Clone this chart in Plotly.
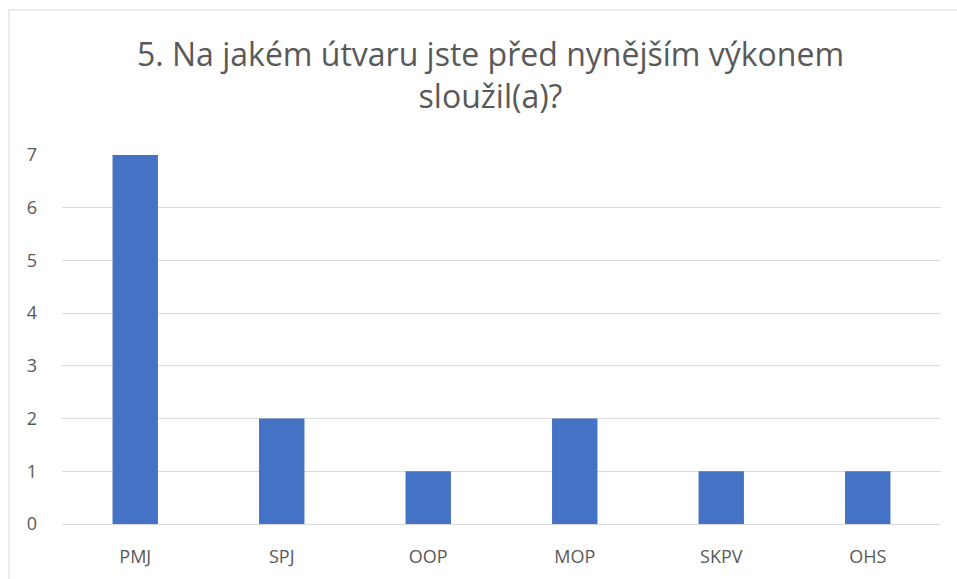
import plotly.graph_objects as go

categories = ["PMJ", "SPJ", "OOP", "MOP", "SKPV", "OHS"]
values = [7, 2, 1, 2, 1, 1]
y_ticks = [0, 1, 2, 3, 4, 5, 6, 7]
title_text = "5. Na jakém útvaru jste před nynějším výkonem<br>sloužil(a)?"

W, H = 957, 579
ml, mr, mt, mb = 62, 16, 155, 55
pw, ph = W - ml - mr, H - mt - mb

fig = go.Figure(go.Bar(x=categories, y=values, marker=dict(color="#4472C4", line=dict(width=0)), width=0.31,
                       hoverinfo="skip"))

grey = "#595959"
fig.update_layout(
    width=W, height=H,
    margin=dict(l=ml, r=mr, t=mt, b=mb),
    paper_bgcolor="white", plot_bgcolor="white",
    font=dict(family="Open Sans, Liberation Sans, sans-serif", color=grey, size=18),
    showlegend=False,
    xaxis=dict(showgrid=False, showline=False, zeroline=False, ticks="", ticklabelstandoff=20,
               tickfont=dict(size=18, color=grey)),
    yaxis=dict(range=[0, 7], tickvals=y_ticks, showgrid=True, gridcolor="#d9d9d9", gridwidth=1,
               zeroline=True, zerolinecolor="#d9d9d9", zerolinewidth=1, showline=False, ticks="",
               ticklabelstandoff=24, tickfont=dict(size=18, color=grey)),
    annotations=[dict(text=title_text, xref="paper", yref="paper", x=(490 - ml) / pw, y=1 + (mt - 75) / ph,
                      xanchor="center", yanchor="middle", showarrow=False,
                      font=dict(size=32, color=grey, family="Open Sans, Liberation Sans, sans-serif"))],
    shapes=[dict(type="rect", xref="paper", yref="paper",
                 x0=(9 - ml) / pw, x1=(1000 - ml) / pw, y0=1 - (620 - mt) / ph, y1=1 + (mt - 10) / ph,
                 line=dict(color="#d9d9d9", width=1), fillcolor="rgba(0,0,0,0)", layer="below")],
)

fig.write_html("out.html", config={"displayModeBar": False},
               post_script="document.body.style.margin='0';")
